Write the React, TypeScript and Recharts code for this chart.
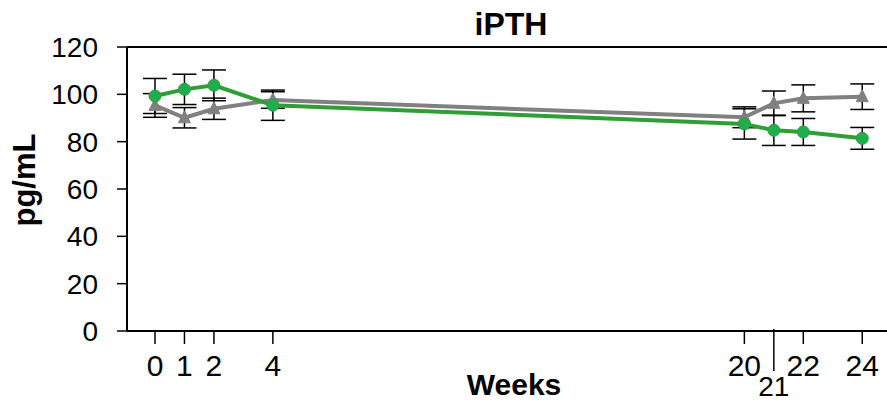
import { LineChart, Line, XAxis, YAxis, ErrorBar, ReferenceLine } from "recharts";

const weeks = [0, 1, 2, 4, 20, 21, 22, 24];
const greenValues = [99.3, 102.1, 103.8, 95.4, 87.5, 84.8, 84.1, 81.4];
const greenErrors = [7.4, 6.4, 6.5, 6.4, 6.4, 6.4, 5.7, 4.6];
const grayValues = [95.3, 90.1, 93.9, 97.6, 90.3, 96.2, 98.3, 99.0];
const grayErrors = [5.0, 4.3, 4.5, 3.5, 4.4, 5.2, 5.7, 5.4];
const yTicks = [0, 20, 40, 60, 80, 100, 120];

const data = weeks.map((week, i) => ({
  week,
  green: greenValues[i],
  greenErr: greenErrors[i],
  gray: grayValues[i],
  grayErr: grayErrors[i],
}));

const FONT = "'Liberation Sans', Arial, sans-serif";
const GREEN = "#2f9e35";
const GRAY = "#808080";

const XTick = (props: any) => {
  const { x, y, payload } = props;
  // week 21 gets a long tick and a label pushed down below the others
  const long = payload.value === 21;
  return (
    <g>
      <line x1={x} x2={x} y1={y - (long ? 2 : 0)} y2={y + (long ? 40 : 13)} stroke="#000" strokeWidth={1.5} />
      <text
        x={x}
        y={y + (long ? 65 : 45)}
        textAnchor="middle"
        fontSize={long ? 28 : 30}
        fontFamily={FONT}
        fill="#000"
      >
        {payload.value}
      </text>
    </g>
  );
};

const TriangleDot = (props: any) => {
  const { cx, cy, index } = props;
  if (cx == null || cy == null) return null;
  return (
    <polygon
      key={`tri-${index}`}
      points={`${cx},${cy - 7} ${cx - 6},${cy + 5} ${cx + 6},${cy + 5}`}
      fill={GRAY}
      stroke={GRAY}
    />
  );
};

const App = () => {
  return (
    <div style={{ position: "absolute", left: 0, top: 0, width: 887, height: 402, fontFamily: FONT }}>
      <LineChart
        width={887}
        height={402}
        data={data}
        margin={{ top: 47, right: 0, bottom: 0, left: 0 }}
      >
        <XAxis
          dataKey="week"
          type="number"
          domain={[-0.95, 24.84]}
          ticks={weeks}
          interval={0}
          height={71}
          tickSize={0}
          tickMargin={0}
          tickLine={false}
          tick={<XTick />}
          axisLine={{ stroke: "#000", strokeWidth: 2 }}
          allowDataOverflow
        />
        <YAxis
          type="number"
          domain={[0, 120]}
          ticks={yTicks}
          width={127}
          tickSize={10}
          tickMargin={19}
          tick={{ fill: "#000", fontSize: 28, fontFamily: FONT }}
          tickLine={{ stroke: "#000", strokeWidth: 1.5 }}
          axisLine={{ stroke: "#000", strokeWidth: 2 }}
        />
        <ReferenceLine y={120} stroke="#000" strokeWidth={2} />
        <Line
          dataKey="gray"
          stroke={GRAY}
          strokeWidth={4}
          dot={<TriangleDot />}
          activeDot={false}
          isAnimationActive={false}
        >
          <ErrorBar dataKey="grayErr" direction="y" width={12} stroke="#000" strokeWidth={1.5} />
        </Line>
        <Line
          dataKey="green"
          stroke={GREEN}
          strokeWidth={4}
          dot={{ r: 6, fill: "#1fae4f", stroke: GREEN, strokeWidth: 1 }}
          activeDot={false}
          isAnimationActive={false}
        >
          <ErrorBar dataKey="greenErr" direction="y" width={12} stroke="#000" strokeWidth={1.5} />
        </Line>
      </LineChart>
      <svg width={887} height={402} style={{ position: "absolute", left: 0, top: 0, pointerEvents: "none" }}>
        <text x={511} y={35} textAnchor="middle" fontSize={32} fontWeight="bold" fontFamily={FONT} fill="#000">
          iPTH
        </text>
        <text x={514} y={395} textAnchor="middle" fontSize={30} fontWeight="bold" fontFamily={FONT} fill="#000">
          Weeks
        </text>
        <text
          x={35}
          y={180}
          transform="rotate(-90 35 180)"
          textAnchor="middle"
          fontSize={31}
          fontWeight="bold"
          fontFamily={FONT}
          fill="#000"
        >
          pg/mL
        </text>
      </svg>
    </div>
  );
};

export default App;
